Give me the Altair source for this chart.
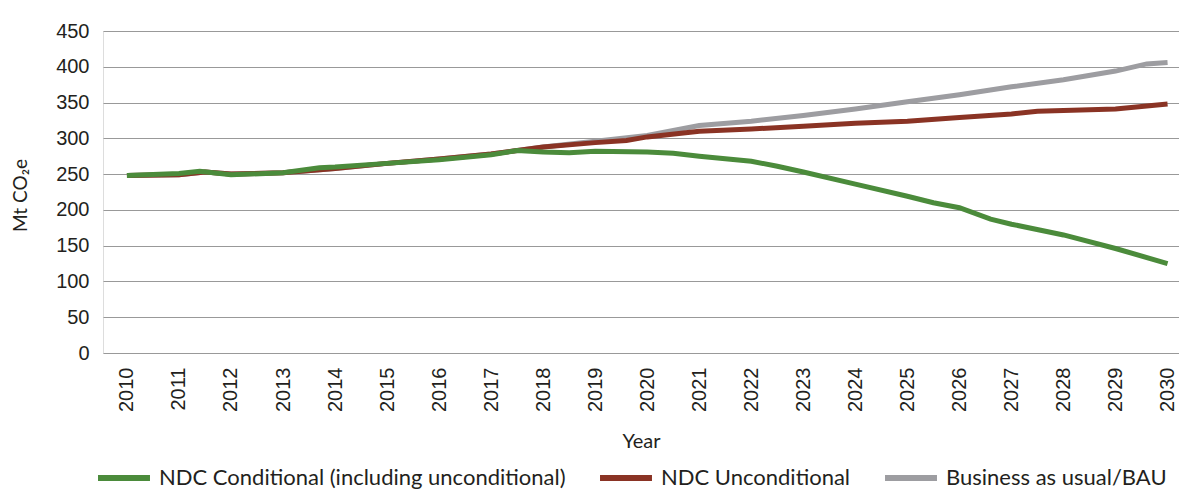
import altair as alt
import pandas as pd

COND = "NDC Conditional (including unconditional)"
UNCOND = "NDC Unconditional"
BAU = "Business as usual/BAU"

cond_years = [2010, 2011, 2011.4, 2012, 2013, 2013.7, 2014, 2015, 2016, 2017, 2017.5, 2018, 2018.5,
              2019, 2020, 2020.5, 2021, 2022, 2022.5, 2023, 2024, 2025, 2025.5, 2026, 2026.6, 2027,
              2028, 2029, 2030]
cond_values = [248, 251, 254, 249, 252, 259, 260, 265, 270, 277, 283, 281, 280,
               282, 281, 279, 275, 268, 261, 253, 236, 219, 210, 203, 187, 180,
               165, 146, 125]

uncond_years = [2010, 2011, 2011.5, 2012, 2013, 2014, 2015, 2016, 2017, 2017.5, 2018, 2019, 2019.6,
                2020, 2021, 2022, 2023, 2024, 2025, 2026, 2027, 2027.5, 2028, 2029, 2030]
uncond_values = [248, 249, 253, 250, 252, 258, 265, 271, 278, 283, 288, 294, 297,
                 302, 310, 313, 317, 321, 324, 329, 334, 338, 339, 341, 348]

bau_years = [2010, 2011, 2011.5, 2012, 2013, 2014, 2015, 2016, 2017, 2018, 2019, 2020, 2020.5,
             2021, 2022, 2023, 2024, 2025, 2026, 2027, 2028, 2029, 2029.6, 2030]
bau_values = [248, 249, 253, 250, 252, 258, 265, 271, 278, 288, 296, 304, 311,
              318, 324, 332, 341, 351, 361, 372, 382, 394, 404, 406]

year_ticks = list(range(2010, 2031))
y_ticks = list(range(0, 451, 50))

series_names = [COND, UNCOND, BAU]
series_colors = ["#4b8b3b", "#8a3324", "#9d9da1"]

rows = []
for name, ys, vs in [(COND, cond_years, cond_values), (UNCOND, uncond_years, uncond_values),
                     (BAU, bau_years, bau_values)]:
    for y, v in zip(ys, vs):
        rows.append({"series": name, "year": y, "value": v})
df = pd.DataFrame(rows)

NUMFONT = "Liberation Sans"
FONT = "Lato"
TXT = "#231f20"

x_enc = alt.X("year:Q",
              scale=alt.Scale(domain=[2009.54, 2030.22], nice=False, zero=False),
              axis=alt.Axis(values=year_ticks, format="d", labelAngle=-90, labelAlign="right",
                            labelBaseline="middle", labelPadding=14, labelFontSize=20,
                            labelColor=TXT, labelFont=NUMFONT, grid=False, domain=False, ticks=False,
                            title="Year", titleFontSize=20, titleFont=FONT, titleColor=TXT,
                            titleFontWeight="normal", titleBaseline="middle", titleY=88))
y_enc = alt.Y("value:Q",
              scale=alt.Scale(domain=[0, 450], nice=False),
              axis=alt.Axis(values=y_ticks, labelFontSize=20, labelColor=TXT, labelFont=NUMFONT,
                            labelPadding=14, grid=True, gridColor="#999999", gridWidth=1.2,
                            domain=False, ticks=False,
                            title="Mt CO₂e", titleFontSize=19, titleFont=FONT, titleColor=TXT,
                            titleFontWeight="normal", titleX=-83, titleY=164,
                            titleAlign="center", titleBaseline="middle"))
color_enc = alt.Color("series:N",
                      scale=alt.Scale(domain=series_names, range=series_colors),
                      legend=alt.Legend(title=None, orient="none", direction="horizontal",
                                        legendX=-8, legendY=418, symbolType="stroke",
                                        symbolStrokeWidth=6, symbolSize=2700,
                                        labelFontSize=22, labelFont=FONT, labelColor=TXT,
                                        labelOffset=6, columnPadding=22, labelLimit=600))

base = alt.Chart(df)
layers = []
for name in [BAU, UNCOND, COND]:
    layers.append(
        base.transform_filter(alt.datum.series == name)
        .mark_line(strokeWidth=5, clip=True)
        .encode(x=x_enc, y=y_enc, color=color_enc)
    )

chart = alt.layer(*layers).properties(
    width=1076, height=322,
    autosize=alt.AutoSizeParams(type="none"),
    padding={"left": 95, "top": 23, "right": 0, "bottom": 136},
).configure_view(stroke=None).configure(background="white")

chart.save("out.html", embed_options={"renderer": "svg", "actions": False})
